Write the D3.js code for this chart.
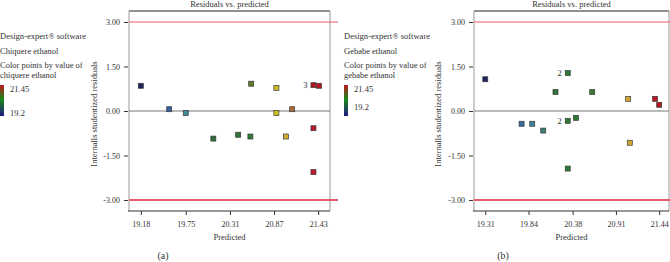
<!DOCTYPE html>
<html>
<head>
  <script src="https://cdn.jsdelivr.net/npm/d3@7"></script>
  <style>
    body { margin: 0; background: #fff; }
    text { font-family: "Liberation Serif", "DejaVu Serif", serif; fill: #333; }
  </style>
</head>
<body>
  <svg width="670" height="262" id="chart"></svg>
  <script>
    // panel (a) - chiquere ethanol
    const predA = [19.18, 19.54, 19.75, 20.10, 20.415, 20.57, 20.58, 20.90, 20.90, 21.02, 21.10, 21.37, 21.44, 21.37, 21.37];
    const residA = [0.85, 0.06, -0.07, -0.93, -0.80, -0.86, 0.92, 0.78, -0.07, -0.86, 0.06, 0.87, 0.85, -0.58, -2.06];
    const actualA = [19.2, 19.5, 19.75, 20.0, 20.2, 20.3, 20.6, 20.92, 20.9, 20.98, 21.1, 21.45, 21.45, 21.35, 21.3];
    const countA = [null, null, null, null, null, null, null, null, null, null, null, '3', null, null, null];
    const xTicksA = [19.18, 19.75, 20.31, 20.87, 21.43];

    // panel (b) - gebabe ethanol
    const predB = [19.31, 19.755, 19.885, 20.02, 20.17, 20.32, 20.32, 20.42, 20.62, 21.06, 21.08, 21.39, 21.44, 20.32];
    const residB = [1.07, -0.43, -0.43, -0.66, 0.64, 1.28, -0.33, -0.23, 0.64, 0.41, -1.07, 0.41, 0.21, -1.94];
    const actualB = [19.2, 19.55, 19.7, 19.85, 20.2, 20.3, 20.3, 20.3, 20.35, 21.0, 21.0, 21.4, 21.45, 20.25];
    const countB = [null, null, null, null, null, '2', '2', null, null, null, null, null, null, null];
    const xTicksB = [19.31, 19.84, 20.38, 20.91, 21.44];

    const yTicks = [3, 1.5, 0, -1.5, -3];
    const limits = [3, -3];

    const svg = d3.select('#chart');

    // Design-Expert style color ramp
    const colorStops = [19.2, 19.5, 19.75, 20.0, 20.3, 20.6, 20.9, 21.0, 21.1, 21.3, 21.45];
    const colorRange = ['#1e2260', '#3363a3', '#3f8b98', '#2f6c3c', '#2f7a36', '#5e7c2c', '#cbc21e', '#d4a632', '#aa6a38', '#c01a30', '#b01522'];
    const color = d3.scaleLinear().domain(colorStops).range(colorRange);

    function drawLegend(x, name, lowY) {
      const g = svg.append('g');
      const lines = [
        { t: 'Design-expert\u00AE software', y: 39 },
        { t: name.charAt(0).toUpperCase() + name.slice(1), y: 54 },
        { t: 'Color points by value of', y: 68 },
        { t: name, y: 78 }
      ];
      g.selectAll('text.lg').data(lines).join('text')
        .attr('class', 'lg')
        .attr('x', x).attr('y', d => d.y)
        .attr('font-size', 8.5)
        .text(d => d.t);

      const grad = svg.append('defs').append('linearGradient')
        .attr('id', 'grad' + x).attr('x1', 0).attr('x2', 0).attr('y1', 0).attr('y2', 1);
      [['0%', '#c0141e'], ['45%', '#1a8a1a'], ['100%', '#1a1a80']].forEach(s => {
        grad.append('stop').attr('offset', s[0]).attr('stop-color', s[1]);
      });
      g.append('rect').attr('x', x).attr('y', 85).attr('width', 4).attr('height', 31)
        .attr('fill', `url(#grad${x})`);
      g.append('text').attr('x', x + 10).attr('y', 92).attr('font-size', 8.5).text('21.45');
      g.append('text').attr('x', x + 10).attr('y', lowY).attr('font-size', 8.5).text('19.2');
    }

    function drawPanel(p) {
      const top = 11, bottom = 211;
      const x = d3.scaleLinear().domain(p.xDomain).range([p.left, p.right]);
      const y = d3.scaleLinear().domain([-3.37, 3.37]).range([bottom, top]);
      const g = svg.append('g');

      // frame
      g.append('line').attr('x1', p.left).attr('x2', p.right).attr('y1', top).attr('y2', top)
        .attr('stroke', '#222').attr('stroke-width', 1);
      g.append('line').attr('x1', p.right).attr('x2', p.right).attr('y1', top).attr('y2', bottom)
        .attr('stroke', '#999').attr('stroke-width', 1);
      g.append('line').attr('x1', p.left).attr('x2', p.left).attr('y1', top).attr('y2', bottom)
        .attr('stroke', '#999').attr('stroke-width', 1);

      // zero line
      g.append('line').attr('x1', p.left).attr('x2', p.right).attr('y1', y(0)).attr('y2', y(0))
        .attr('stroke', '#777').attr('stroke-width', 1);

      // +/-3 limits
      g.selectAll('line.lim').data(limits).join('line')
        .attr('class', 'lim')
        .attr('x1', p.left).attr('x2', p.redEnd)
        .attr('y1', d => y(d)).attr('y2', d => y(d))
        .attr('stroke', '#e85a64').attr('stroke-width', (d, i) => i ? 2 : 1.2);

      // x axis
      const xAxis = g.append('g').attr('transform', `translate(0,${bottom})`)
        .call(d3.axisBottom(x).tickValues(p.xTicks).tickFormat(d => d.toFixed(2)).tickSize(4).tickSizeOuter(0));
      xAxis.select('.domain').attr('stroke', '#333').attr('d', `M${p.left - 1},0H${p.right}`);
      xAxis.selectAll('.tick line').attr('stroke', '#333');
      xAxis.selectAll('.tick text').attr('font-size', 8).attr('dy', '1.1em')
        .attr('font-family', '"Liberation Serif", serif').attr('fill', '#333');

      // y axis
      const yAxis = g.append('g').attr('transform', `translate(${p.left - 1},0)`)
        .call(d3.axisLeft(y).tickValues(yTicks).tickFormat(d => d.toFixed(2).replace('-', '-')).tickSize(4).tickPadding(4));
      yAxis.select('.domain').remove();
      yAxis.selectAll('.tick line').attr('stroke', '#333');
      yAxis.selectAll('.tick text').attr('font-size', 8)
        .attr('font-family', '"Liberation Serif", serif').attr('fill', '#333');

      // points
      const data = p.pred.map((d, i) => ({ pred: d, resid: p.resid[i], actual: p.actual[i], count: p.count[i] }));
      g.selectAll('rect.pt').data(data).join('rect')
        .attr('class', 'pt')
        .attr('x', d => x(d.pred) - 2.5).attr('y', d => y(d.resid) - 2.5)
        .attr('width', 5).attr('height', 5)
        .attr('fill', d => color(d.actual))
        .attr('stroke', '#3a3a3a').attr('stroke-width', 0.7);
      g.selectAll('text.cnt').data(data.filter(d => d.count)).join('text')
        .attr('class', 'cnt')
        .attr('x', d => x(d.pred) - 6).attr('y', d => y(d.resid) + 3)
        .attr('text-anchor', 'end').attr('font-size', 8.5)
        .text(d => d.count);

      // titles
      const cx = (p.left + p.right) / 2;
      g.append('text').attr('x', cx).attr('y', 7).attr('text-anchor', 'middle').attr('font-size', 8.5)
        .text('Residuals vs. predicted');
      g.append('text').attr('x', cx).attr('y', 240).attr('text-anchor', 'middle').attr('font-size', 8.5)
        .text('Predicted');
      g.append('text').attr('transform', `translate(${p.yLabelX},${(top + bottom) / 2 + 3}) rotate(-90)`)
        .attr('text-anchor', 'middle').attr('font-size', 8.5)
        .text('Internalls studentized residuals');
      g.append('text').attr('x', p.tagX).attr('y', 259).attr('text-anchor', 'middle').attr('font-size', 10)
        .text(p.tag);
    }

    drawLegend(0, 'chiquere ethanol', 116);
    drawLegend(344, 'gebabe ethanol', 110);

    drawPanel({
      left: 129, right: 330, redEnd: 338, xDomain: [19.03, 21.58], xTicks: xTicksA,
      pred: predA, resid: residA, actual: actualA, count: countA,
      yLabelX: 97, tagX: 163, tag: '(a)'
    });
    drawPanel({
      left: 474, right: 669, redEnd: 670, xDomain: [19.172, 21.56], xTicks: xTicksB,
      pred: predB, resid: residB, actual: actualB, count: countB,
      yLabelX: 441, tagX: 503, tag: '(b)'
    });
  </script>
</body>
</html>
